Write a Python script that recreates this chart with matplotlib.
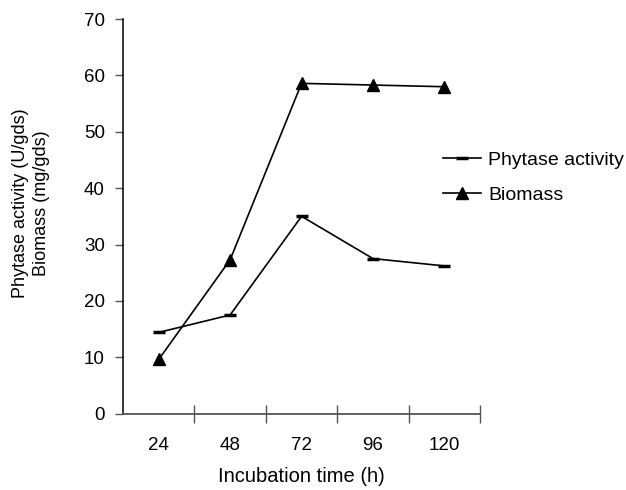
import matplotlib
matplotlib.use("Agg")
import matplotlib.pyplot as plt

plt.rcParams['font.family'] = ['Liberation Sans', 'DejaVu Sans']

hours = ["24", "48", "72", "96", "120"]
phytase = [14.4, 17.5, 35.0, 27.5, 26.2]
biomass = [9.6, 27.3, 58.6, 58.3, 58.0]
yticks = [0, 10, 20, 30, 40, 50, 60, 70]

fig = plt.figure(figsize=(6.26, 4.9), dpi=100)
ax = fig.add_axes([0.1965, 0.156, 0.5705, 0.805])

x = list(range(len(hours)))
ax.plot(x, phytase, color='black', lw=1.2, marker='_', markersize=8,
        markeredgewidth=2.5, label='Phytase activity')
ax.plot(x, biomass, color='black', lw=1.2, marker='^', markersize=8.5,
        label='Biomass')

ax.set_xlim(-0.5, len(hours) - 0.5)
ax.set_ylim(0, 70)
ax.set_yticks(yticks)
ax.set_yticklabels([str(v) for v in yticks], fontsize=13.5)
ax.set_xticks(x)
ax.set_xticklabels(hours, fontsize=13.5)
ax.tick_params(axis='x', which='major', length=0, pad=17)
ax.set_xticks([i + 0.5 for i in x], minor=True)
ax.tick_params(axis='x', which='minor', direction='inout', length=13, width=1, color='#555555')
ax.tick_params(axis='y', direction='out', length=6, width=1, color='#555555', pad=7)

for s in ['top', 'right']:
    ax.spines[s].set_visible(False)
ax.spines['left'].set_color('black')
ax.spines['left'].set_linewidth(1.1)
ax.spines['bottom'].set_color('#555555')
ax.spines['bottom'].set_linewidth(1.3)

ax.set_xlabel('Incubation time (h)', fontsize=14.5, labelpad=9)
ax.set_ylabel('Phytase activity (U/gds)\nBiomass (mg/gds)', fontsize=13,
              va='center', linespacing=1.3)
ax.yaxis.set_label_coords(-0.258, 0.534)

leg = fig.legend(loc='upper left', bbox_to_anchor=(0.679, 0.727), frameon=False,
                 fontsize=14, handlelength=2.0, handletextpad=0.35, labelspacing=0.9)

fig.savefig('out.png', dpi=100)
